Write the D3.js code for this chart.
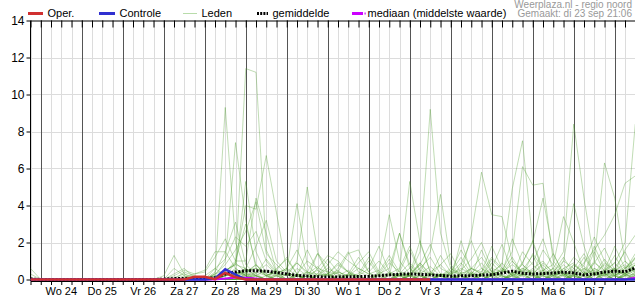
<!DOCTYPE html>
<html>
<head>
<meta charset="utf-8">
<script src="https://cdn.jsdelivr.net/npm/d3@7"></script>
<style>
  body { margin: 0; background: #fff; }
  svg { display: block; font-family: "Liberation Sans", Arial, sans-serif; }
</style>
</head>
<body>
<div id="chart"></div>
<script>
// 6-hourly steps, first point di 23 sep 18:00
const startTime = Date.UTC(2025, 8, 23, 18);
const stepHours = 6;

const dayLabels = ["Wo 24", "Do 25", "Vr 26", "Za 27", "Zo 28", "Ma 29", "Di 30",
                   "Wo 1", "Do 2", "Vr 3", "Za 4", "Zo 5", "Ma 6", "Di 7"];
const yTicks = [0, 2, 4, 6, 8, 10, 12, 14];

// neerslag (mm) per 6 uur
const oper = [0, 0,0,0,0, 0,0,0,0, 0,0,0,0, 0,0,0,0.15,
  0.15,0.02,0.36,0.12, 0,0,0,0, 0,0,0,0, 0,0,0,0,
  0,0,0,0, 0,0,0];
const controle = [0, 0,0,0,0, 0,0,0,0, 0,0,0,0, 0,0,0,0,
  0,0.05,0.55,0.27, 0,0,0,0, 0,0,0,0, 0,0,0,0,
  0,0,0,0, 0,0,0,0, 0,0,0,0, 0,0,0,0,
  0,0,0,0, 0,0,0,0, 0,0,0];
const gemiddelde = [0.03, 0,0,0,0, 0,0,0,0, 0,0,0,0, 0.02,0.05,0.06,0.05,
  0.05,0.1,0.3,0.4, 0.47,0.47,0.45,0.38, 0.3,0.22,0.18,0.15, 0.13,0.14,0.15,0.16,
  0.17,0.2,0.25,0.28, 0.3,0.28,0.25,0.22, 0.18,0.2,0.2,0.24, 0.26,0.35,0.45,0.34,
  0.3,0.32,0.35,0.4, 0.35,0.25,0.3,0.4, 0.45,0.42,0.62];
const mediaan = [0, 0,0,0,0, 0,0,0,0, 0,0,0,0, 0,0,0,0,
  0,0,0.05,0.1, 0.1,0.05,0,0, 0,0,0,0, 0,0,0,0,
  0,0,0,0, 0,0,0,0, 0,0,0,0, 0,0,0,0,
  0,0,0,0, 0,0,0,0, 0,0,0.1];

const leden = [
  [0.6, 0,0,0,0, 0,0,0,0, 0,0,0,0, 0,0,0.2,0,  0,0.3,0.5,0.8, 11.4,11.2,1.6,0.4, 0.2,0.9,0.3,0, 0,0.2,0.5,0.1,  0,0.3,1.1,0.2, 0,0,0.4,0.8, 0.2,0,0.6,1.2, 0.4,0.1,0,0.9,  2.1,0.5,0.1,0, 0.3,1.2,0.4,0, 0.2,0.6,1.1],
  [0.3, 0,0,0,0, 0,0,0,0, 0,0,0,0, 0,0.1,0.3,0.1,  0,0.3,9.3,2.0, 0.4,0.8,0.2,0, 0,0,0.4,1.4, 0.3,0,0,0,  0,0,0,0.3, 0.2,0.9,0.3,0, 0,0,0.4,0.2, 1.1,0.5,0,0.3,  0,0.2,0,1.0, 0.6,0.2,0,0.4, 1.3,0.3,0],
  [0.1, 0,0,0,0, 0,0,0,0, 0,0,0,0, 0,0,0,0,  0,0.2,1.0,7.4, 3.2,0.6,0.2,0.5, 1.2,0.3,0,0, 0,0.6,1.5,0.4,  0.2,0,0,0, 0,0,0.3,0.2, 0,0.8,2.1,0.6, 0.1,0,0.3,0.6,  0.4,0,0,0.3, 0.2,0,0.9,1.7, 0.5,0.2,0.8],
  [0, 0,0,0,0, 0,0,0,0, 0,0,0,0, 0,0.6,0.2,0,  0,0,0.4,0.9, 4.0,3.8,6.7,3.6, 0.5,0,0.2,0, 0,0,0,0.2,  0,0.3,0.6,2.5, 0.8,0.2,0,0, 0,0,0.3,0.9, 0.2,0,0,0,  0,0.4,1.4,0.3, 0,0,0.6,0.3, 0,0,0.2],
  [0, 0,0,0,0, 0,0,0,0, 0,0,0,0, 0.2,1.3,0.3,0,  0,0.2,0.3,0.5, 5.3,1.5,0.3,0, 0,0,0,0.2, 0.3,0,0,0,  0,0,0,0, 0,0.2,0,0, 0.4,1.2,0.3,0, 0,0,0.2,1.5,  0.8,0.3,0,0, 0,0,0.3,0.2, 0,0.3,0.6],
  [0, 0,0,0,0, 0,0,0,0, 0,0,0,0, 0,0,0.4,0.2,  0,0.6,0.2,0.9, 0.4,0.6,0.2,0.4, 0.5,4.1,0.8,0.2, 0.6,0.3,0,0,  0,0,0,0.2, 0.6,0.2,0,0.3, 0.1,0,0,0.4, 1.8,0.6,0.2,0,  0,0,0.2,0.8, 0.3,0,0,0, 0.4,1.0,0.3],
  [0, 0,0,0,0, 0,0,0,0, 0,0,0,0, 0,0,0,0,  0,0,0.4,1.0, 1.0,4.4,2.5,0.4, 0,0,0.3,0.7, 0.2,0,0,0,  0,0,0.4,0.2, 0.3,0,0.2,1.3, 0.4,0,0,0, 0.3,0.9,0.2,0,  0,0.5,0.2,0, 0.3,0.6,0.2,0.9, 0.5,0,0],
  [0, 0,0,0,0, 0,0,0,0, 0,0,0,0, 0,0,0.1,0.3,  0.5,1.5,1.5,3.1, 0.8,0.3,0,0.2, 0,0.6,0.2,0, 0,0,0.3,0,  0,0,0,0, 0,0.3,0.7,0.2, 0.5,0.2,0,0, 0,0.4,1.2,0.3,  0.2,0,0,0, 0.8,0.4,0,0.3, 0.2,0.5,1.4],
  [0, 0,0,0,0, 0,0,0,0, 0,0,0,0, 0,0.3,0.6,0.1,  0,0.4,1.5,0.6, 0.2,0,0,0.6, 1.1,0.3,0,0, 0,0.4,0.2,0.3,  1.2,0.3,0,0, 0.2,0.8,0,0, 0,0,0,0, 0.2,0.3,1.0,0.4,  0.3,0.8,0.2,0, 0,0.3,0.5,0.2, 0.6,0.3,0.1],
  [0, 0,0,0,0, 0,0,0,0, 0,0,0,0, 0,0,0,0,  0,0,0.2,0.3, 0.5,0.6,0.4,0.3, 0.2,1.0,5.0,1.5, 0.4,0,0,0.2,  0,0,0,0.3, 0.9,0.3,0,0.2, 0,0,0,0, 0.3,0.2,0,0.5,  1.3,0.2,0,0, 0,0.2,0.9,0.5, 0.2,0,0.4],
  [0, 0,0,0,0, 0,0,0,0, 0,0,0,0, 0,0,0,0,  0,0,0.3,0.2, 0,0.4,0.8,0.3, 0,0,0,0.3, 0.2,0.5,0,0,  0,0,0,0, 0.3,1.5,9.2,2.5, 0.6,0.2,0,0, 0,0,0.4,0.3,  0,0.2,0.6,0.3, 0,0,0.3,0.8, 0.2,0,0],
  [0, 0,0,0,0, 0,0,0,0, 0,0,0,0, 0,0,0,0,  0,0,0,0.2, 0.4,0.2,0,0, 0.3,0.2,0,0.6, 0.4,0.3,0,0,  0,0,0,0.5, 5.3,2.0,0.4,0.2, 0,0.3,0.6,0.3, 0,0,0,0.2,  0.6,1.0,0.3,0, 0.2,0.4,0,0, 0.3,0.7,0.2],
  [0, 0,0,0,0, 0,0,0,0, 0,0,0,0, 0,0,0,0,  0,0.2,0,0.3, 0.6,0.2,0,0, 0,0.2,0,0, 0.3,0.8,0.4,0,  0,0.2,0.3,0, 0.2,0.4,1.5,4.6, 0.8,0.2,0,0.3, 0.5,0.2,0,0,  0,0.3,0.2,0.6, 0.9,0.3,0,0, 0,0.2,0.5],
  [0, 0,0,0,0, 0,0,0,0, 0,0,0,0, 0,0,0,0,  0,0,0.2,0.4, 0.3,0,0,0.2, 0.3,0,0,0, 0,0,0.2,0.6,  0.3,0.5,3.5,1.0, 0.3,0,0,0.2, 0.6,0.3,0,0, 0.2,0.5,0.3,0,  0,0,0.4,0.2, 0,0.6,0.3,0, 0,0.2,0.3],
  [0, 0,0,0,0, 0,0,0,0, 0,0,0,0, 0,0,0,0,  0,0,0,0.2, 0.6,0.2,0,0, 0,0,0,0, 0,0,0,0,  0,0,0,0.2, 0.3,0.9,0.2,0, 0,0.3,2.4,5.8, 3.5,3.4,1.0,0.3,  0,0,0.3,0.2, 0,0.2,0.6,0.3, 0,0.3,0.8],
  [0, 0,0,0,0, 0,0,0,0, 0,0,0,0, 0,0,0,0,  0,0,0,0, 0.3,0.8,0.2,0, 0,0,0.2,0.5, 0,0,0,0,  0,0,0.3,0.2, 0,0,0,0.3, 0.2,0,0,0.3, 0.4,0.8,4.9,7.5,  2.0,0.4,0,0.3, 0.2,0,0,0.4, 0.6,0.2,0],
  [0, 0,0,0,0, 0,0,0,0, 0,0,0,0, 0,0,0,0,  0,0,0.2,0.6, 0.2,0,0,0, 0,0.3,0,0, 0,0,0,0,  0,0,0,0, 0.2,0,0,0, 0,0,0.2,0.6, 0.3,0.5,1.5,6.1,  5.1,5.2,1.0,0.3, 0,0,0.3,0.2, 0.5,0.3,0],
  [0, 0,0,0,0, 0,0,0,0, 0,0,0,0, 0,0,0,0,  0,0,0,0.3, 0.4,0,0,0, 0,0,0,0.2, 0.3,0,0,0,  0,0,0,0, 0,0,0,0.3, 0.2,0,0,0, 0.3,0.2,0,0,  0,0.3,0.6,1.5, 8.4,4.4,1.0,0.3, 0.2,0.6,1.2],
  [0, 0,0,0,0, 0,0,0,0, 0,0,0,0, 0,0,0,0,  0,0,0,0, 0.2,0.4,0.2,0, 0,0,0,0, 0,0.2,0,0,  0,0,0,0.2, 0,0,0,0, 0,0.4,0.3,0, 0,0,0.3,0.8,  0.3,0,0,0.2, 0.5,0.2,1.0,6.3, 4.4,1.0,0.5],
  [0, 0,0,0,0, 0,0,0,0, 0,0,0,0, 0,0,0,0,  0,0,0,0, 0,0.2,0,0, 0,0,0,0, 0,0,0,0,  0,0,0,0, 0,0,0.3,0.2, 0,0,0,0.2, 0.3,0,0,0,  0,0,0.2,0.4, 0.3,0,0,0.5, 0.9,2.0,8.4],
  [0, 0,0,0,0, 0,0,0,0, 0,0,0,0, 0,0,0,0,  0,0,0,0.2, 0.3,0,0,0, 0,0,0,0, 0,0,0,0,  0,0,0,0, 0.2,0,0,0, 0,0,0.3,0.2, 0,0,0.2,0.6,  0.3,0,0,0, 0.4,0.9,1.6,2.4, 3.5,5.2,5.6],
  [0, 0,0,0,0, 0,0,0,0, 0,0,0,0, 0,0,0,0,  0,0,0.2,0.3, 0,0,0,0.3, 0.6,0.2,0,0, 0,0,0,0,  0,0,0,0.3, 0.2,0,0,0, 0,0,0,0, 0.2,0.6,0.3,0.9,  2.0,4.4,1.4,0.3, 0,0,0.2,0.4, 0.3,0,0],
  [0, 0,0,0,0, 0,0,0,0, 0,0,0,0, 0,0,0,0,  0,0,0,0, 0,0.2,0.5,0.2, 0,0,0,0, 0,0,0.3,1.2,  0.4,0,0,0, 0,0,0,0, 0,0,0,0, 0,0.2,0,0,  0.3,0.5,0.8,3.4, 2.0,0.4,0,0, 0.2,0.4,0.2],
  [0, 0,0,0,0, 0,0,0,0, 0,0,0,0, 0,0,0,0,  0,0,0,0, 0,0,0.2,0.5, 0.3,0,0,0, 0.3,0.9,0.4,0,  0,0,0.2,0.3, 0,0,0,0, 0.3,0.9,0.2,0, 0,0,0,0,  0.2,0.3,0.4,1.0, 4.1,1.8,0.3,0, 0,0.2,0.6],
  [0, 0,0,0,0, 0,0,0,0, 0,0,0,0, 0,0,0,0,  0,0,0.3,0.2, 0,0,0,0, 0,0,0,1.4, 0.8,0,0,0,  0,0.4,0.2,2.5, 0.6,0,0,0, 0,2.1,0.4,0, 0,0,0.2,0.3,  0.2,0,0,0.6, 0.3,0,0,0.2, 0.6,1.5,0.4],
  [0, 0,0,0,0, 0,0,0,0, 0,0,0,0, 0,0,0,0,  0,0,0,0, 0.3,0.2,0,0, 0,0.2,0.4,0, 0,0,0.3,0.2,  1.0,0.2,0,0, 0.3,2.1,0.4,0, 0,0,0,0, 0,0,0,0.3,  0.5,0.2,0,0, 0.2,0.8,2.3,1.0, 0.2,0,0],
  [0, 0,0,0,0, 0,0,0,0, 0,0,0,0, 0,0,0,0,  0,0,0,0.2, 0,0.3,1.1,0.4, 0,0,0,0, 0,0,0,0,  0,0,0,0, 0,0.2,0,0, 0.3,0.6,0.3,0.2, 0.9,0.3,0,0,  0,0,0.3,0.5, 0,0,0,0.3, 0.5,0.8,0.4],
  [0, 0,0,0,0, 0,0,0,0, 0,0,0,0, 0,0,0,0,  0,0,0.2,0.4, 0.2,0,0,0, 0,0,0.2,0, 0,0,0,0,  0,0,0,0, 0,0,0,0.2, 0.3,0,0,0, 0,0,0.3,0.2,  0,0,0,0, 0.2,0,0.4,0.3, 0,0.3,0.6],
  [0, 0,0,0,0, 0,0,0,0, 0,0,0,0, 0,0,0,0,  0,0,0,0, 0,0,0,0, 0,0,0,0, 0,0,0,0,  0,0,0,0, 0,0,0,0, 0,0,0,0, 0,0,0,0,  0,0,0,0, 0,0,0,0, 0,0,0.2],
  [0, 0,0,0,0, 0,0,0,0, 0,0,0,0, 0,0,0,0,  0,0,0,0.1, 0.2,0,0,0, 0,0,0,0, 0,0,0,0,  0,0,0,0, 0,0,0,0, 0,0,0,0.2, 0,0,0,0,  0,0,0,0, 0,0,0,0, 0,0,0.3],
  [0, 0,0,0,0, 0,0,0,0, 0,0,0,0, 0,0.2,0.5,0.3,  0.4,1.2,2.2,1.0, 3.0,0.8,0.3,0.2, 0,0.3,1.0,0.6, 1.3,1.0,0.4,0.2,  0.6,1.8,0.4,0, 0.2,0.6,1.2,0.3, 0,0.2,0.6,0.4, 1.2,0.6,0.2,0.5,  0.3,1.6,0.8,0.2, 0.6,1.4,0.3,0.5, 1.8,0.6,0.9],
  [0, 0,0,0,0, 0,0,0,0, 0,0,0,0, 0,0,0,0,  0.2,0.6,1.1,2.3, 1.8,2.6,1.0,0.3, 0.6,1.6,0.4,0.2, 0.8,1.5,1.0,0.6,  0.3,0.2,0.9,0.4, 1.6,0.4,0.2,0.8, 1.4,0.3,0.2,1.6, 0.4,0.3,2.2,0.8,  0.3,0.9,0.4,1.2, 0.3,0.2,1.5,0.4, 0.9,0.3,1.2],
  [0, 0,0,0,0, 0,0,0,0, 0,0,0,0, 0,0,0,0,  0,0.3,0.8,1.6, 2.6,4.2,1.4,0.8, 0.3,0.2,1.6,0.5, 0.2,0.4,1.4,1.6,  0.4,1.0,0.3,0.6, 1.8,0.5,0.3,0.2, 0.4,1.6,0.6,0.3, 0.6,1.9,0.4,0.2,  1.4,0.6,0.2,0.4, 1.2,0.7,0.3,1.1, 0.4,1.6,2.4],
  [0, 0,0,0,0, 0,0,0,0, 0,0,0,0, 0,0,0,0,  0,0,0.5,0.8, 0.6,1.8,3.2,1.0, 0.4,0.9,0.4,0.3, 1.1,0.4,0.2,0.9,  1.5,0.4,1.3,0.4, 0.3,0.8,1.9,0.6, 0.3,0.5,1.1,2.0, 0.6,0.4,0.8,0.4,  0.9,2.2,0.5,0.3, 0.8,0.3,1.8,0.6, 0.3,0.4,0.8]
];

const W = 635, H = 300;
const timeAt = i => new Date(startTime + i * stepHours * 3600e3);
const endTime = timeAt(leden[0].length - 1);

const x = d3.scaleUtc().domain([new Date(startTime), endTime]).range([30.5, 635.25]);
const y = d3.scaleLinear().domain([0, 14]).range([279.5, 20.5]);

const svg = d3.select("#chart").append("svg")
  .attr("width", W).attr("height", H);

// grid
const hours = d3.utcHour.every(6).range(new Date(startTime), endTime);
svg.append("g").selectAll("line")
  .data(yTicks.slice(1, -1))
  .join("line")
    .attr("x1", 30.5).attr("x2", W)
    .attr("y1", d => Math.round(y(d)) + 0.5).attr("y2", d => Math.round(y(d)) + 0.5)
    .attr("stroke", "#dcdcdc");
svg.append("g").selectAll("line")
  .data(hours.filter(d => d.getUTCHours() != 0))
  .join("line")
    .attr("x1", d => Math.round(x(d)) + 0.5).attr("x2", d => Math.round(x(d)) + 0.5)
    .attr("y1", 20.5).attr("y2", 281)
    .attr("stroke", "#dcdcdc");
svg.append("g").selectAll("line")
  .data(hours.filter(d => d.getUTCHours() == 0))
  .join("line")
    .attr("x1", d => Math.round(x(d)) + 0.5).attr("x2", d => Math.round(x(d)) + 0.5)
    .attr("y1", 20.5).attr("y2", 281)
    .attr("stroke", "#555");

// axes
svg.append("g")
  .attr("transform", "translate(0,20.5)")
  .call(d3.axisBottom(x).ticks(d3.utcHour.every(6)).tickSize(7).tickSizeOuter(0).tickFormat(""))
  .call(g => g.selectAll("line,path").attr("stroke", "#000"));
svg.append("g")
  .attr("transform", "translate(0,281)")
  .call(d3.axisBottom(x).ticks(d3.utcHour.every(6)).tickSize(4).tickSizeOuter(0).tickFormat(""))
  .call(g => g.selectAll("line,path").attr("stroke", "#000"));
svg.append("g")
  .attr("transform", "translate(30.5,0)")
  .call(d3.axisLeft(y).tickValues(yTicks).tickSize(4).tickPadding(2).tickSizeOuter(0))
  .call(g => g.select(".domain").attr("d", "M0,20.5V281"))
  .call(g => g.selectAll("text").attr("font-size", 12).attr("fill", "#000")
    .attr("font-family", "'Liberation Sans', Arial, sans-serif"));

// day labels at noon
const days = d3.utcDay.range(new Date(Date.UTC(2025, 8, 24)), endTime);
svg.append("g").selectAll("text")
  .data(dayLabels)
  .join("text")
    .attr("x", (d, i) => x(d3.utcHour.offset(days[i], 12)))
    .attr("y", 295)
    .attr("text-anchor", "middle")
    .attr("font-size", 11)
    .text(d => d);

// lines
const plot = svg.append("g");
svg.append("clipPath").attr("id", "clip")
  .append("rect").attr("x", 30.5).attr("y", 20).attr("width", W - 30).attr("height", 262);
plot.attr("clip-path", "url(#clip)");

const line = d3.line().x((d, i) => x(timeAt(i))).y(d => y(d));

plot.selectAll(".lid")
  .data(leden)
  .join("path")
    .attr("class", "lid")
    .attr("d", line)
    .attr("fill", "none")
    .attr("stroke", "#4f9f30")
    .attr("stroke-opacity", 0.36)
    .attr("stroke-width", 1);

plot.append("path").datum(mediaan)
  .attr("d", line).attr("fill", "none")
  .attr("stroke", "#cc00ff").attr("stroke-width", 2);

plot.append("path").datum(gemiddelde)
  .attr("d", line).attr("fill", "none")
  .attr("stroke", "#000").attr("stroke-width", 3)
  .attr("stroke-dasharray", "2,1.6");

plot.append("path").datum(controle)
  .attr("d", line).attr("fill", "none")
  .attr("stroke", "#3030d0").attr("stroke-width", 2.5);

plot.append("path").datum(oper)
  .attr("d", line).attr("fill", "none")
  .attr("stroke", "#d03030").attr("stroke-width", 2.5);

// legend
const legend = [
  { label: "Oper.", x: 28, w: 15, color: "#d03030", width: 3 },
  { label: "Controle", x: 99, w: 16, color: "#3030d0", width: 3 },
  { label: "Leden", x: 183, w: 14, color: "#b8dcaa", width: 1 },
  { label: "gemiddelde", x: 257, w: 11, color: "#000", width: 3, dash: "2,1.2" },
  { label: "mediaan (middelste waarde)", x: 352, w: 11, color: "#cc00ff", width: 3 }
];
const lg = svg.append("g").selectAll("g").data(legend).join("g");
lg.append("line")
  .attr("x1", d => d.x).attr("x2", d => d.x + d.w)
  .attr("y1", 13.5).attr("y2", 13.5)
  .attr("stroke", d => d.color).attr("stroke-width", d => d.width)
  .attr("stroke-dasharray", d => d.dash || null);
lg.append("text")
  .attr("x", d => d.x + d.w + 4.5).attr("y", 17)
  .attr("font-size", 11)
  .text(d => d.label);
svg.append("rect").attr("x", 364.5).attr("y", 12.5).attr("width", 1.2).attr("height", 2).attr("fill", "#cc00ff");

svg.append("text").attr("x", 632).attr("y", 7.5).attr("text-anchor", "end")
  .attr("font-size", 10).attr("fill", "#999").text("Weerplaza.nl - regio noord");
svg.append("text").attr("x", 632).attr("y", 17).attr("text-anchor", "end")
  .attr("font-size", 10).attr("fill", "#999").text("Gemaakt: di 23 sep 21:06");
</script>
</body>
</html>
